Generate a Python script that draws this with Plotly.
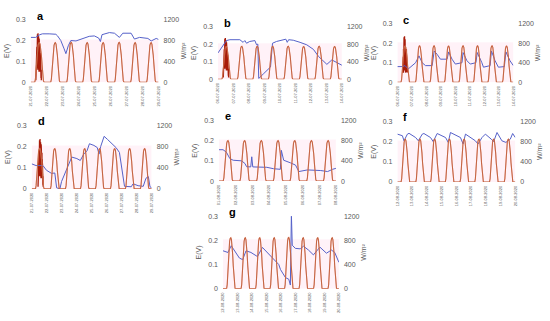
import plotly.graph_objects as go

W, H = 550, 321

# ---------------- data ----------------
dates_a = ["21-07-2020", "22-07-2020", "23-07-2020", "24-07-2020", "25-07-2020",
           "26-07-2020", "27-07-2020", "28-07-2020", "29-07-2020"]
dates_b = ["06-07-2020", "07-07-2020", "08-07-2020", "09-07-2020", "10-07-2020",
           "11-07-2020", "12-07-2020", "13-07-2020", "14-07-2020"]
dates_c = ["06-07-2020", "07-07-2020", "08-07-2020", "09-07-2020", "10-07-2020",
           "11-07-2020", "12-07-2020", "13-07-2020", "14-07-2020"]
dates_d = ["21-07-2020", "22-07-2020", "23-07-2020", "24-07-2020", "25-07-2020",
           "26-07-2020", "27-07-2020", "28-07-2020", "29-07-2020"]
dates_e = ["01-08-2020", "02-08-2020", "03-08-2020", "04-08-2020", "05-08-2020",
           "06-08-2020", "07-08-2020", "08-08-2020"]
dates_f = ["12-08-2020", "13-08-2020", "14-08-2020", "15-08-2020", "16-08-2020",
           "17-08-2020", "18-08-2020", "19-08-2020", "20-08-2020"]
dates_g = ["12-08-2020", "13-08-2020", "14-08-2020", "15-08-2020", "16-08-2020",
           "17-08-2020", "18-08-2020", "19-08-2020", "20-08-2020"]

# E(V) series: time in days from first tick, value in volts
t_a = [0, 0.31, 0.57, 0.73, 1.15, 1.57, 1.68, 1.88, 2.09, 2.2, 2.35, 2.51, 2.83, 3.25, 3.66,
       3.98, 4.25, 4.36, 4.46, 4.92, 5.24, 5.55, 5.76, 6.28, 6.49, 6.81, 7.33, 7.54, 7.85, 8.0]
e_a = [0.215, 0.215, 0.228, 0.232, 0.232, 0.23, 0.222, 0.2, 0.16, 0.137, 0.175, 0.2, 0.198,
       0.21, 0.22, 0.222, 0.212, 0.195, 0.228, 0.238, 0.235, 0.215, 0.235, 0.235, 0.207,
       0.215, 0.21, 0.198, 0.21, 0.205]

t_b = [0, 0.22, 0.54, 0.76, 1.41, 1.62, 1.73, 1.84, 2.05, 2.38, 2.49, 2.57, 2.63, 2.92, 3.24,
       3.39, 3.52, 3.78, 4.38, 4.47, 4.56, 4.86, 5.3, 5.73, 6.16, 6.49, 7.03, 7.35, 7.68, 8.0]
e_b = [0.15, 0.18, 0.22, 0.225, 0.225, 0.21, 0.22, 0.205, 0.215, 0.22, 0.196, 0.2, 0.005,
       0.03, 0.057, 0.07, 0.205, 0.215, 0.228, 0.21, 0.225, 0.222, 0.21, 0.196, 0.17, 0.13,
       0.085, 0.11, 0.095, 0.08]

t_c = [0, 0.34, 0.53, 0.75, 1.26, 1.49, 1.71, 1.94, 2.4, 2.54, 2.74, 2.97, 3.43, 3.54, 3.77,
       4.0, 4.46, 4.53, 4.8, 5.03, 5.42, 5.51, 5.83, 5.94, 6.4, 6.49, 6.74, 6.97, 7.38, 7.49,
       7.77, 8.0]
e_c = [0.08, 0.08, 0.085, 0.068, 0.1, 0.135, 0.1, 0.085, 0.085, 0.16, 0.143, 0.118, 0.118,
       0.155, 0.118, 0.093, 0.1, 0.152, 0.11, 0.093, 0.1, 0.152, 0.1, 0.077, 0.085, 0.16,
       0.11, 0.077, 0.08, 0.155, 0.11, 0.085]

t_d = [0, 0.29, 0.75, 0.98, 1.32, 1.54, 1.66, 1.88, 1.99, 2.33, 2.67, 3.01, 3.24, 3.47, 3.69,
       3.85, 4.15, 4.37, 4.49, 4.6, 4.83, 5.06, 5.4, 5.62, 5.85, 6.08, 6.19, 6.64, 6.76, 7.1,
       7.44, 7.62, 7.78, 7.89, 8.0]
e_d = [0.118, 0.11, 0.11, 0.088, 0.073, 0.075, 0.005, 0.0, 0.035, 0.095, 0.15, 0.143, 0.134,
       0.164, 0.18, 0.213, 0.205, 0.195, 0.164, 0.2, 0.248, 0.233, 0.21, 0.195, 0.172, 0.058,
       0.012, 0.01, 0.024, 0.015, 0.012, 0.05, 0.058, 0.01, 0.005]

t_e = [0, 0.24, 0.44, 0.65, 0.85, 1.35, 1.55, 1.65, 1.9, 1.96, 2.02, 2.36, 2.86, 3.27, 3.67,
       3.73, 3.87, 4.28, 4.58, 4.78, 5.29, 6.09, 6.5, 6.8, 7.0]
e_e = [0.155, 0.155, 0.143, 0.111, 0.103, 0.1, 0.087, 0.071, 0.07, 0.12, 0.07, 0.068, 0.068,
       0.061, 0.058, 0.152, 0.103, 0.09, 0.079, 0.047, 0.055, 0.052, 0.047, 0.058, 0.063]

t_f = [0, 0.34, 0.45, 0.68, 0.79, 1.24, 1.42, 1.69, 1.8, 2.25, 2.43, 2.7, 3.27, 3.45, 3.6,
       4.28, 4.46, 4.62, 5.29, 5.47, 5.74, 5.97, 6.37, 6.53, 6.76, 7.09, 7.36, 7.66, 7.82, 8.0]
e_f = [0.237, 0.229, 0.204, 0.237, 0.241, 0.22, 0.204, 0.237, 0.24, 0.22, 0.2, 0.24, 0.22,
       0.196, 0.245, 0.22, 0.188, 0.237, 0.204, 0.188, 0.22, 0.237, 0.212, 0.2, 0.245, 0.204,
       0.196, 0.212, 0.24, 0.22]

t_g = [0, 0.34, 0.57, 0.79, 1.13, 1.36, 1.59, 1.93, 2.38, 2.72, 3.06, 3.51, 3.85, 3.97, 4.31,
       4.54, 4.65, 4.72, 4.78, 4.99, 5.33, 5.56, 5.9, 6.24, 6.69, 7.14, 7.48, 7.71, 8.0]
e_g = [0.157, 0.15, 0.178, 0.16, 0.127, 0.12, 0.157, 0.15, 0.133, 0.171, 0.15, 0.12, 0.1,
       0.079, 0.046, 0.039, 0.015, 0.31, 0.18, 0.167, 0.165, 0.176, 0.16, 0.14, 0.172, 0.147,
       0.16, 0.15, 0.109]

# hourly solar irradiance shape (fraction of the daily peak), hours 0..23
sun_profile = [0, 0, 0, 0, 0, 0, 0, 0.08, 0.33, 0.6, 0.8, 0.93, 0.99, 1.0, 0.96,
               0.86, 0.68, 0.45, 0.2, 0.04, 0, 0, 0, 0]
# daily peak irradiance (W/m2)
peak_a = [760, 760, 765, 760, 760, 765, 760, 760]
peak_b = [745, 750, 750, 750, 750, 745, 750, 745]
peak_c = [740, 745, 745, 740, 745, 745, 745, 740]
peak_d = [765, 760, 760, 760, 760, 760, 760, 760]
peak_e = [800, 800, 800, 800, 800, 800, 800]
peak_f = [850, 850, 850, 850, 850, 850, 850, 850]
peak_g = [845, 845, 845, 845, 850, 845, 845, 845]

# dense E(V) readings during the first morning (burst)
burst_vals = [0.01, 0.05, 0.02, 0.09, 0.03, 0.13, 0.05, 0.17, 0.06, 0.2, 0.08, 0.23, 0.1,
              0.21, 0.07, 0.235, 0.12, 0.2, 0.06, 0.22, 0.09, 0.19, 0.05, 0.21, 0.11, 0.18,
              0.06, 0.16, 0.08, 0.17, 0.05, 0.14, 0.07, 0.12, 0.04, 0.1, 0.02, 0.06, 0.01]
burst_start = {"a": 0.32, "b": 0.34, "c": 0.36, "d": 0.42}

panels = [
    ("a", dates_a, t_a, e_a, peak_a, (28, 157, 16, 80)),
    ("b", dates_b, t_b, e_b, peak_b, (217, 342, 23, 77)),
    ("c", dates_c, t_c, e_c, peak_c, (398, 515, 20, 80)),
    ("d", dates_d, t_d, e_d, peak_d, (29, 150, 124, 189)),
    ("e", dates_e, t_e, e_e, peak_e, (218, 336, 119, 181)),
    ("f", dates_f, t_f, e_f, peak_f, (398, 517, 120, 182)),
    ("g", dates_g, t_g, e_g, peak_g, (222, 339, 217, 291)),
]

GREY = "#595959"
fig = go.Figure()
layout = dict(
    width=W, height=H, margin=dict(l=0, r=0, t=0, b=0, pad=0),
    paper_bgcolor="white", plot_bgcolor="rgba(0,0,0,0)", showlegend=False,
    font=dict(family="Liberation Sans, Arial", color=GREY),
)
shapes, annotations = [], []

for i, (letter, dates, t, e, peaks, (x0, x1, y0, y1)) in enumerate(panels, start=1):
    nd = len(dates) - 1
    xa, ya, ya2 = f"x{i}", f"y{i}", f"y{i + 7}"
    # irradiance
    tx, ty = [], []
    for d, pk in enumerate(peaks):
        for h, f in enumerate(sun_profile):
            tx.append(d + h / 24)
            ty.append(f * pk)
    tx.append(len(peaks))
    ty.append(0)
    fig.add_trace(go.Scatter(x=tx, y=ty, mode="lines", xaxis=xa, yaxis=ya2,
                             line=dict(color="#E8735A", width=1.1), hoverinfo="skip"))
    fig.add_trace(go.Scatter(x=tx, y=ty, mode="lines", xaxis=xa, yaxis=ya2,
                             line=dict(color="#9C5A2E", width=0.5), hoverinfo="skip"))
    # burst
    if letter in burst_start:
        bx = [burst_start[letter] + k * 0.009 for k in range(len(burst_vals))]
        by = burst_vals if letter != "c" else [max(v, 0.05) for v in burst_vals]
        fig.add_trace(go.Scatter(x=bx, y=by, mode="lines", xaxis=xa, yaxis=ya,
                                 line=dict(color="#A81C0A", width=1.3), hoverinfo="skip"))
    # E(V)
    fig.add_trace(go.Scatter(x=t, y=e, mode="lines", xaxis=xa, yaxis=ya,
                             line=dict(color="#5561C9", width=1), hoverinfo="skip"))

    xd = [x0 / W, x1 / W]
    yd = [1 - y1 / H, 1 - y0 / H]
    layout[f"xaxis{i}"] = dict(
        domain=xd, anchor=ya, range=[0, nd], tickvals=list(range(nd + 1)), ticktext=dates,
        tickangle=-90, tickfont=dict(size=4, color=GREY), showgrid=False, zeroline=False,
        showline=False, ticks="", ticklabelstandoff=2, fixedrange=True)
    layout[f"yaxis{i}"] = dict(
        domain=yd, anchor=xa, range=[0, 0.3], tickvals=[0, 0.1, 0.2, 0.3],
        ticktext=["0", "0.1", "0.2", "0.3"], tickfont=dict(size=7, color=GREY),
        showgrid=False, zeroline=False, showline=False, ticks="", ticklabelstandoff=4,
        title=dict(text="E(V)", font=dict(size=7, color=GREY), standoff=5))
    layout[f"yaxis{i + 7}"] = dict(
        domain=yd, anchor=xa, overlaying=ya, side="right", range=[0, 1200],
        tickvals=[0, 400, 800, 1200], tickfont=dict(size=7, color=GREY),
        showgrid=False, zeroline=False, showline=False, ticks="", ticklabelstandoff=4,
        title=dict(text="W/m²", font=dict(size=7, color=GREY), standoff=2))
    shapes.append(dict(type="rect", xref=xa, yref=ya, x0=0, x1=nd, y0=0, y1=0.205,
                       fillcolor="rgba(255,175,210,0.16)", line=dict(width=0), layer="below"))
    annotations.append(dict(text=letter, xref="paper", yref="paper",
                            x=(x0 + 4) / W, y=1 - (y0 - 4) / H, xanchor="left", yanchor="middle",
                            showarrow=False,
                            font=dict(size=11, color="black", weight="bold")))

layout["shapes"] = shapes
layout["annotations"] = annotations
fig.update_layout(**layout)
fig.write_html("out.html", post_script="document.body.style.margin='0';",
               config={"displayModeBar": False})
